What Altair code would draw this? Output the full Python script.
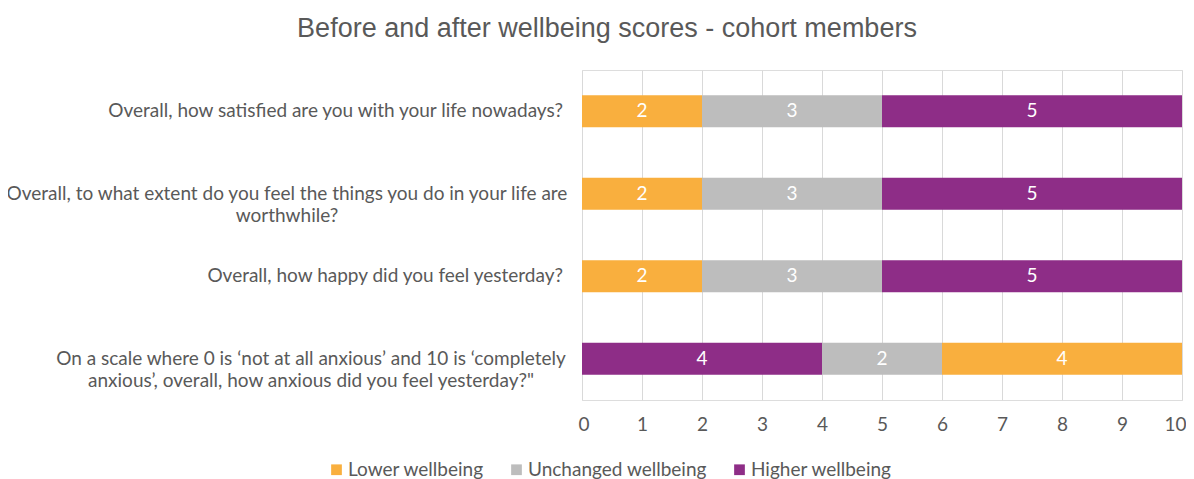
import altair as alt
import pandas as pd

questions = [
    "Overall, how satisfied are you with your life nowadays?",
    "Overall, to what extent do you feel the things you do in your life are worthwhile?",
    "Overall, how happy did you feel yesterday?",
    "On a scale where 0 is \u2018not at all anxious\u2019 and 10 is \u2018completely anxious\u2019, overall, how anxious did you feel yesterday?\"",
]
question_lines = [
    "Overall, how satisfied are you with your life nowadays?",
    "Overall, to what extent do you feel the things you do in your life are\nworthwhile?",
    "Overall, how happy did you feel yesterday?",
    "On a scale where 0 is \u2018not at all anxious\u2019 and 10 is \u2018completely\nanxious\u2019, overall, how anxious did you feel yesterday?\"",
]
series = ["Lower wellbeing", "Unchanged wellbeing", "Higher wellbeing"]
lower = [2, 2, 2, 4]
unchanged = [3, 3, 3, 2]
higher = [5, 5, 5, 4]
reversed_scale = [False, False, False, True]
colors = ["#F9AF3E", "#BDBDBD", "#8E2D87"]

FONT = "Lato"
FS = 19
GREY = "#595959"

rows = []
for i, q in enumerate(questions):
    vals = [lower[i], unchanged[i], higher[i]]
    for j, s in enumerate(series):
        order = (2 - j) if reversed_scale[i] else j
        rows.append({"q": q, "series": s, "value": vals[j], "order": order})
df = pd.DataFrame(rows)

lab_df = pd.DataFrame({"q": questions, "label": question_lines,
                       "multi": ["\n" in t for t in question_lines],
                       "idx": list(range(len(questions)))})

yenc = alt.Y("q:N", sort=questions, axis=None,
             scale=alt.Scale(paddingInner=0.61, paddingOuter=0.305))

base = alt.Chart(df).transform_stack(
    stack="value", as_=["x0", "x1"], groupby=["q"], sort=[alt.SortField("order")]
).transform_calculate(mid="(datum.x0 + datum.x1) / 2")

bars = base.mark_bar().encode(
    y=yenc,
    x=alt.X("x0:Q", scale=alt.Scale(domain=[0, 10], nice=False),
            axis=alt.Axis(values=list(range(11)), format="d", grid=True,
                          gridColor="#D9D9D9", gridWidth=1, domain=False, ticks=False,
                          labelFontSize=FS, labelColor=GREY, labelFont=FONT,
                          labelFlush=True, labelFlushOffset=4,
                          labelPadding=15, title=None)),
    x2="x1:Q",
    color=alt.Color("series:N", scale=alt.Scale(domain=series, range=colors),
                    legend=alt.Legend(orient="none", legendX=-255, legendY=390,
                                      direction="horizontal", title=None,
                                      symbolType="square", symbolSize=115,
                                      symbolStrokeWidth=0, labelFontSize=FS,
                                      labelFont=FONT, labelColor=GREY,
                                      labelLimit=400,
                                      columnPadding=23, labelOffset=2)),
)

vals = base.mark_text(color="white", fontSize=FS, font=FONT).encode(
    y=yenc, x="mid:Q", text="value:Q")

lab_base = alt.Chart(lab_df)
single = lab_base.transform_filter("!datum.multi").mark_text(
    align="right", baseline="middle", fontSize=FS, font=FONT, color=GREY
).encode(y=yenc, x=alt.value(-19), text="label:N")
multi1 = lab_base.transform_filter("datum.idx == 1").mark_text(
    align="center", baseline="middle", fontSize=FS, font=FONT, color=GREY,
    lineBreak="\n", lineHeight=22
).encode(y=yenc, x=alt.value(-295), text="label:N")
multi3 = lab_base.transform_filter("datum.idx == 3").mark_text(
    align="center", baseline="middle", fontSize=FS, font=FONT, color=GREY,
    lineBreak="\n", lineHeight=22
).encode(y=yenc, x=alt.value(-271), text="label:N")

chart = alt.layer(bars, vals, single, multi1, multi3).properties(
    width=600, height=330,
    autosize=alt.AutoSizeParams(type="none"),
    padding={"left": 574, "top": 62, "right": 4, "bottom": 80},
    title=alt.TitleParams("Before and after wellbeing scores - cohort members",
                          fontSize=27, color=GREY, fontWeight="normal",
                          font="Liberation Sans",
                          anchor="middle", dx=-275, offset=27),
).configure_view(stroke=None).configure(background="white")

chart.save("out.html", embed_options={"renderer": "svg", "actions": False})
